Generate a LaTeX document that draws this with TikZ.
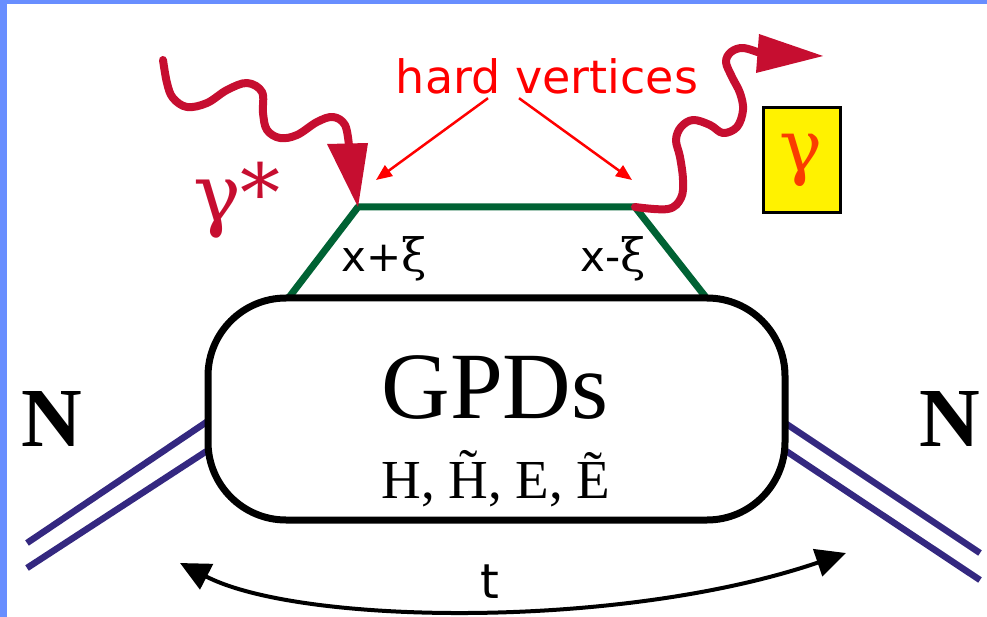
\documentclass[tikz,border=0pt]{standalone}
\usepackage{fontspec}
\setmainfont{Liberation Serif}
\newfontfamily\comicfont{DejaVu Sans}
\newfontfamily\greekfont{DejaVu Serif}
\usetikzlibrary{arrows.meta}

\definecolor{slideblue}{RGB}{104,142,255}
\definecolor{photonred}{RGB}{198,14,48}
\definecolor{quarkgreen}{RGB}{0,98,52}
\definecolor{nucleonblue}{RGB}{52,40,128}
\definecolor{gammaorange}{RGB}{250,60,0}

\begin{document}
\begin{tikzpicture}[x=1pt, y=-1pt,
    photon/.style={photonred, line width=8pt, line cap=round, line join=round},
    nucleon/.style={nucleonblue, line width=6.5pt},
    pointer/.style={red, line width=2.5pt, -{Triangle[length=16pt,width=13pt]}}]

    \useasboundingbox (0,0) rectangle (987,617);

    % Blauwe rand van de dia
    \fill[slideblue] (0,0) rectangle (987,4);
    \fill[slideblue] (0,0) rectangle (7,617);

    % De twee harde vertices
    \coordinate (vin) at (358,207);
    \coordinate (vout) at (635,207);

    % Groene quarklijnen (trapezium)
    \draw[quarkgreen, line width=7pt, line join=round] (287,300) -- (vin) -- (vout) -- (708,300);

    % Dubbele nucleonlijnen links en rechts
    \coordinate (nina) at (27,543);
    \coordinate (ninb) at (27,568);
    \coordinate (gpdwa) at (214,417);
    \coordinate (gpdwb) at (216,445);
    \coordinate (gpdea) at (782,421);
    \coordinate (gpdeb) at (780,447);
    \coordinate (nouta) at (980,553);
    \coordinate (noutb) at (980,580);
    \draw[nucleon] (nina) -- (gpdwa);
    \draw[nucleon] (ninb) -- (gpdwb);
    \draw[nucleon] (gpdea) -- (nouta);
    \draw[nucleon] (gpdeb) -- (noutb);

    % Het GPD-blok
    \node[draw, fill=white, line width=7pt, rounded corners=78pt,
          minimum width=577pt, minimum height=222pt] (gpd) at (496.5,409) {};
    \node[anchor=base, font=\fontsize{95}{100}\selectfont] (gpdname) at (495,418) {GPDs};
    \node[anchor=base, font=\fontsize{55}{60}\selectfont] (gpdlist) at (496,498) {H, \~{H}, E, \~{E}};

    % Nucleonlabels
    \node[anchor=base, font=\bfseries\fontsize{84}{90}\selectfont] (nin) at (52,446) {N};
    \node[anchor=base, font=\bfseries\fontsize{84}{90}\selectfont] (nout) at (950,446) {N};

    % Impulsfracties bij de quarklijnen
    \node[anchor=base, font=\fontsize{42}{44}\selectfont] (xplus) at (384,272) {{\comicfont x+}{\greekfont\fontsize{46}{48}\selectfont ξ}};
    \node[anchor=base, font=\fontsize{42}{44}\selectfont] (xminus) at (613,272) {{\comicfont x-}{\greekfont\fontsize{46}{48}\selectfont ξ}};

    % Inkomend virtueel foton
    \draw[photon] plot[smooth, tension=0.6] coordinates {(163,60) (167,83) (173,98) (187,107) (207,103)
        (227,90) (247,83) (262,92) (263,113) (267,130) (280,138) (297,135) (317,122) (333,117)
        (345,125) (349,146)};
    \fill[photonred] (327,144) -- (368,143) -- (vin) -- cycle;
    \node[photonred, font=\greekfont\fontsize{80}{84}\selectfont] (gstar) at (237,200) {γ*};

    % Uitgaand reëel foton
    \draw[photon] plot[smooth, tension=0.6] coordinates {(vout) (668,209) (681,198) (683,180)
        (680,157) (676,140) (681,127) (693,120) (710,125) (723,133) (737,127) (743,110)
        (740,93) (732,77) (726,62) (731,52) (743,48) (760,53)};
    \fill[photonred] (759,34) -- (823,56) -- (756,73) -- cycle;
    \node[draw=black, line width=3pt, fill=yellow, minimum width=77pt, minimum height=105pt,
          text=gammaorange, font=\greekfont\fontsize{72}{76}\selectfont] (gam) at (801.5,160.5) {γ};

    % Label voor de harde vertices met wijzers
    \node[red, anchor=base, font=\comicfont\fontsize{46}{50}\selectfont] (hard) at (547,94) {hard vertices};
    \coordinate (tipin) at (376,180);
    \coordinate (tipout) at (632,180);
    \draw[pointer] ([xshift=-59pt]hard.south) -- (tipin);
    \draw[pointer] ([xshift=-28pt]hard.south) -- (tipout);

    % Impulsoverdracht t
    \coordinate (tleft) at (180,563);
    \coordinate (tright) at (846,553);
    \draw[line width=4pt, {Triangle[length=30pt,width=28pt]}-{Triangle[length=30pt,width=28pt]}]
        (tleft) .. controls (300,625) and (620,630) .. (tright);
    \node[font=\comicfont\fontsize{48}{50}\selectfont] (tlabel) at (490,582) {t};
\end{tikzpicture}
\end{document}
